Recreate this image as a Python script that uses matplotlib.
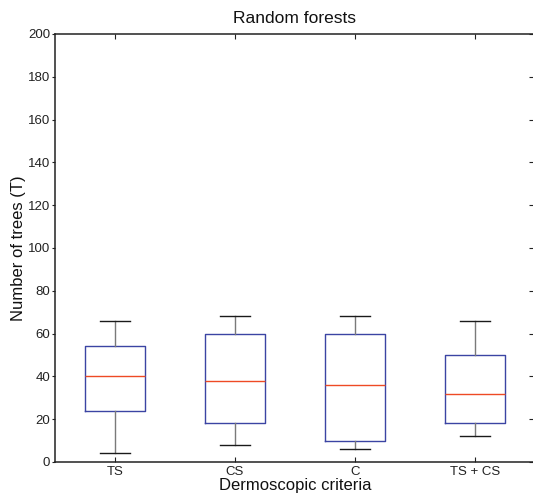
import matplotlib
matplotlib.use("Agg")
import matplotlib.pyplot as plt

plt.rcParams['font.family'] = ['Liberation Sans', 'DejaVu Sans']

# Box-plot summary statistics per criterion
categories = ["TS", "CS", "C", "TS + CS"]
whisker_low = [4, 8, 6, 12]
q1 = [24, 18, 10, 18]
median = [40, 38, 36, 32]
q3 = [54, 60, 60, 50]
whisker_high = [66, 68, 68, 66]
y_ticks = [0, 20, 40, 60, 80, 100, 120, 140, 160, 180, 200]

stats = []
for lab, lo, a, m, b, hi in zip(categories, whisker_low, q1, median, q3, whisker_high):
    stats.append(dict(label=lab, whislo=lo, q1=a, med=m, q3=b, whishi=hi, fliers=[]))

fig = plt.figure(figsize=(5.33, 4.97), dpi=100)
ax = fig.add_axes([55 / 533, 35 / 497, 480 / 533, 428 / 497])

positions = list(range(1, len(categories) + 1))
ax.bxp(stats, positions=positions, widths=0.5, showfliers=False,
       boxprops=dict(color="#3b44a3", linewidth=1.0),
       medianprops=dict(color="#ee4a24", linewidth=1.0),
       whiskerprops=dict(color="#7a7a7a", linewidth=1.0, linestyle="-"),
       capprops=dict(color="#1a1a1a", linewidth=1.0),
       capwidths=0.25)

ax.set_xlim(0.5, 4.5)
ax.set_ylim(0, 200)
ax.set_yticks(y_ticks)
ax.set_xticks(positions)
ax.set_xticklabels(categories)

for s in ax.spines.values():
    s.set_color("#222222")
    s.set_linewidth(1.1)

ax.tick_params(axis="x", which="both", direction="in", length=3.5, width=0.8,
               top=True, bottom=True, labelsize=9.5, pad=3, colors="#222222")
ax.tick_params(axis="y", which="both", left=True, right=False, direction="out",
               length=2.5, width=0.8, labelsize=9.5, pad=1, colors="#222222")
# inward ticks along the right edge
ax_r = ax.secondary_yaxis("right")
ax_r.set_yticks(y_ticks)
ax_r.tick_params(direction="in", length=4.5, width=0.8, labelright=False, colors="#222222")
ax_r.spines["right"].set_visible(False)

ax.set_title("Random forests", fontsize=12.5, pad=8, color="#111111")
ax.set_xlabel("Dermoscopic criteria", fontsize=12, labelpad=0, color="#111111")
ax.set_ylabel("Number of trees (T)", fontsize=12, labelpad=1.5, color="#111111")

fig.savefig("out.png", dpi=100)
